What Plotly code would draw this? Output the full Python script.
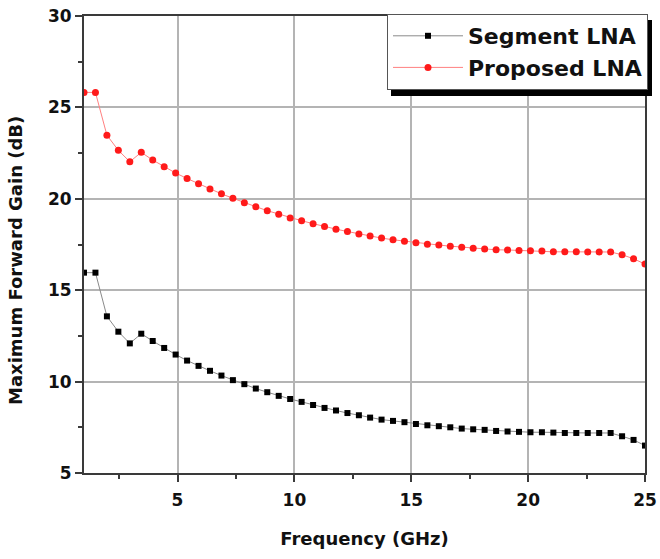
import plotly.graph_objects as go

# Sweep frequencies (GHz)
freq_ghz = [1.00, 1.49, 1.98, 2.47, 2.96, 3.45, 3.94, 4.43, 4.92, 5.41,
            5.90, 6.39, 6.88, 7.37, 7.86, 8.35, 8.84, 9.33, 9.82, 10.31,
            10.80, 11.29, 11.78, 12.27, 12.76, 13.24, 13.73, 14.22, 14.71, 15.20,
            15.69, 16.18, 16.67, 17.16, 17.65, 18.14, 18.63, 19.12, 19.61, 20.10,
            20.59, 21.08, 21.57, 22.06, 22.55, 23.04, 23.53, 24.02, 24.51, 25.00]

# Maximum forward gain (dB)
segment_lna = [15.96, 15.96, 13.57, 12.73, 12.09, 12.62, 12.22, 11.84, 11.48, 11.15,
               10.86, 10.59, 10.33, 10.08, 9.86, 9.62, 9.42, 9.22, 9.05, 8.89,
               8.72, 8.56, 8.42, 8.28, 8.16, 8.03, 7.92, 7.85, 7.78, 7.68,
               7.61, 7.56, 7.50, 7.43, 7.39, 7.36, 7.30, 7.27, 7.25, 7.23,
               7.23, 7.21, 7.19, 7.19, 7.19, 7.19, 7.19, 7.01, 6.81, 6.50]

proposed_lna = [25.82, 25.82, 23.48, 22.65, 22.03, 22.54, 22.12, 21.76, 21.41, 21.11,
                20.82, 20.54, 20.27, 20.03, 19.78, 19.57, 19.35, 19.16, 18.95, 18.80,
                18.64, 18.48, 18.34, 18.21, 18.08, 17.96, 17.85, 17.76, 17.68, 17.59,
                17.52, 17.47, 17.41, 17.35, 17.30, 17.25, 17.21, 17.20, 17.17, 17.16,
                17.14, 17.10, 17.10, 17.10, 17.09, 17.09, 17.09, 16.94, 16.72, 16.43]

x_ticks = [5, 10, 15, 20, 25]
y_ticks = [5, 10, 15, 20, 25, 30]

FONT = "DejaVu Sans"

fig = go.Figure()
fig.add_trace(go.Scatter(
    x=freq_ghz, y=segment_lna, name="Segment LNA", mode="lines+markers",
    line=dict(color="#8a8a8a", width=1),
    marker=dict(symbol="square", size=6, color="#000000"),
))
fig.add_trace(go.Scatter(
    x=freq_ghz, y=proposed_lna, name="Proposed LNA", mode="lines+markers",
    line=dict(color="#ff8080", width=1),
    marker=dict(symbol="circle", size=7, color="#ff1a1a"),
))

# plot area in pixels: x 84..645, y 16..473
L, R, T, B = 84, 645, 16, 473


def px(xp):
    return (xp - L) / (R - L)


def py(yp):
    return (B - yp) / (B - T)


axis_common = dict(
    showline=True, linecolor="#3a3a3a", linewidth=2, mirror=True,
    showgrid=True, gridcolor="#b4b4b4", gridwidth=1.5,
    ticks="outside", ticklen=7, tickwidth=1.5, tickcolor="#3a3a3a",
    tickfont=dict(family=FONT, size=17, color="#111111", weight="bold"),
    zeroline=False, automargin=False,
)

fig.update_xaxes(
    range=[1, 25], tickvals=x_ticks, ticklabelstandoff=4,
    minor=dict(dtick=2.5, tick0=0, ticks="outside", ticklen=4, tickcolor="#3a3a3a",
               showgrid=False),
    title=dict(text="Frequency (GHz)",
               font=dict(family=FONT, size=18, color="#111111", weight="bold"),
               standoff=23),
    **axis_common,
)
fig.update_yaxes(
    range=[5, 30], tickvals=y_ticks,
    minor=dict(dtick=2.5, tick0=0, ticks="outside", ticklen=4, tickcolor="#3a3a3a",
               showgrid=False),
    **axis_common,
)

# drop shadow behind the legend box (legend spans about x 387..648, y 14..90)
fig.add_shape(type="rect", xref="paper", yref="paper",
              x0=px(391), x1=px(652), y0=py(96), y1=py(20),
              fillcolor="#000000", line=dict(width=0), layer="above")

fig.add_annotation(
    text="Maximum Forward Gain (dB)", textangle=-90,
    xref="paper", yref="paper", x=px(15), y=py(261),
    xanchor="center", yanchor="middle", showarrow=False,
    font=dict(family=FONT, size=18, color="#111111", weight="bold"),
)

fig.update_layout(
    width=660, height=559,
    margin=dict(l=L, r=660 - R, t=T, b=559 - B),
    paper_bgcolor="white", plot_bgcolor="white",
    showlegend=True,
    legend=dict(
        x=px(648), y=py(14), xanchor="right", yanchor="top",
        bgcolor="white", bordercolor="#555555", borderwidth=1,
        font=dict(family=FONT, size=22, color="#111111", weight="bold"),
        itemwidth=70, tracegroupgap=0,
    ),
)

fig.write_html("out.html")
